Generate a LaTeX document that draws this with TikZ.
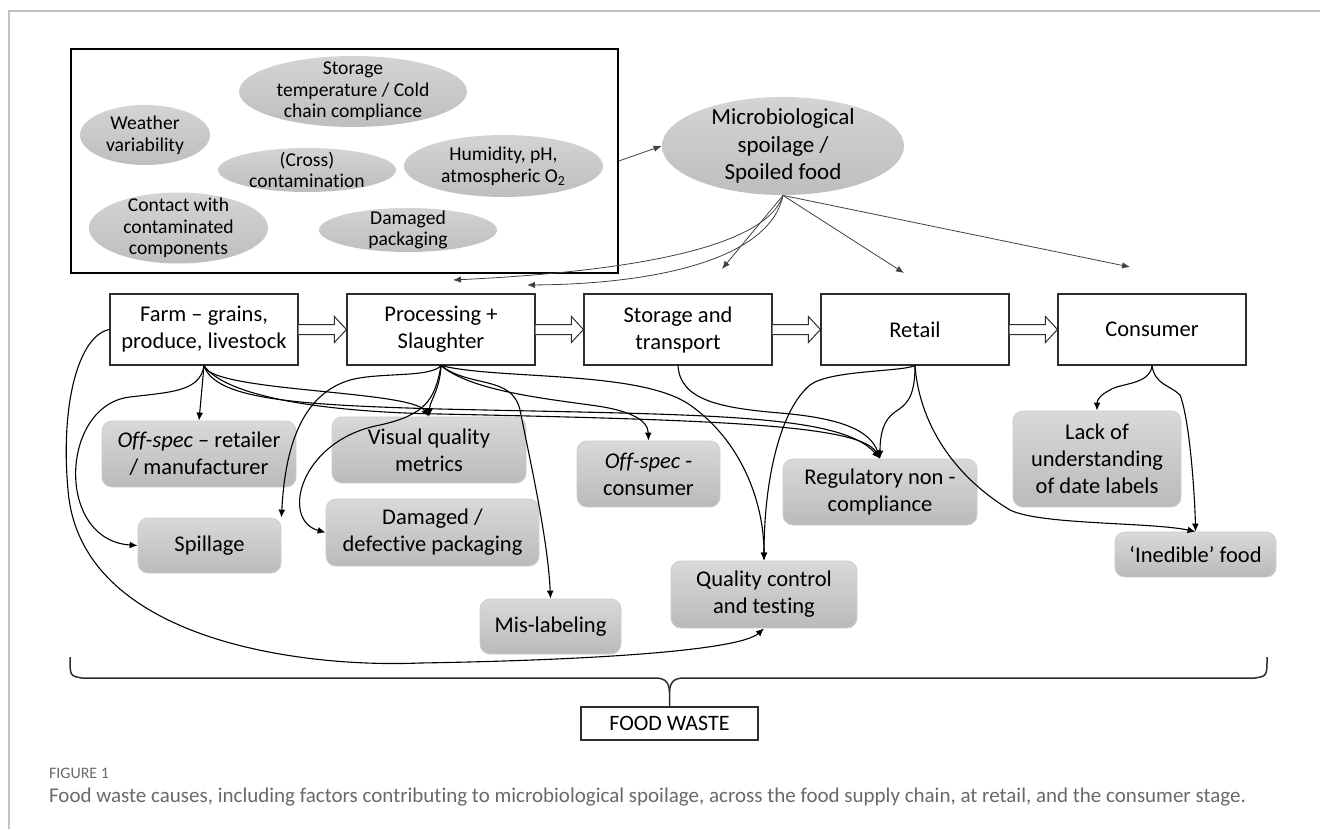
\documentclass[tikz,border=0pt]{standalone}
\usepackage{fontspec}
\setmainfont{Carlito}[Ligatures = CommonOff]
\usetikzlibrary{shapes.geometric, arrows.meta, calc}

\definecolor{boxtop}{RGB}{217,217,217}
\definecolor{boxbot}{RGB}{186,186,186}
\definecolor{boxline}{RGB}{205,205,205}
\definecolor{ovaltop}{RGB}{212,212,212}
\definecolor{ovalbot}{RGB}{190,190,190}
\definecolor{inkgray}{RGB}{45,45,45}
\definecolor{framegray}{RGB}{195,195,195}
\definecolor{capgray}{RGB}{105,105,105}

\begin{document}
\begin{tikzpicture}[x = 0.5pt, y = -0.5pt]
	% Page frame and bounding box
	\useasboundingbox (0, 0) rectangle (1320, 829);
	\draw[framegray, line width = 0.6pt] (9, 829) -- (9, 11) -- (1320, 11);

	% Styles for boxes, ovals and arrows
	\tikzset{stage box/.style = {draw = inkgray, fill = white, line width = 0.6pt, minimum width = 94pt, minimum height = 35.5pt, inner sep = 0pt, align = center, text = black, font = \fontsize{11.25}{13.5}\selectfont}}
	\tikzset{cause box/.style = {draw = boxline, top color = boxtop, bottom color = boxbot, rounded corners = 5pt, line width = 0.4pt, inner sep = 0pt, align = center, text = black, font = \fontsize{11.25}{13.4}\selectfont}}
	\tikzset{factor oval/.style = {ellipse, top color = ovaltop, bottom color = ovalbot, draw = none, inner sep = -30pt, align = center, text = black, font = \fontsize{9.8}{10.8}\selectfont}}
	\tikzset{thin arrow/.style = {-{Latex[length = 4pt, width = 3.4pt]}, line width = 0.55pt}}
	\tikzset{spoil arrow/.style = {-{Latex[length = 4pt, width = 3.2pt]}, line width = 0.4pt, draw = black!75}}
	\tikzset{block arrow/.style = {draw = inkgray, fill = white, line width = 0.5pt}}
	\tikzset{brace line/.style = {draw = inkgray, line width = 0.75pt}}

	% Factors contributing to spoilage
	\node[draw, line width = 0.75pt, minimum width = 273.5pt, minimum height = 112pt, inner sep = 0pt] (factors) at (344.5, 161) {};
	\node[factor oval, minimum width = 114pt, minimum height = 35.5pt] (coldchain) at (353, 91.5) {Storage\\temperature / Cold\\chain compliance};
	\node[factor oval, minimum width = 65pt, minimum height = 30pt] (weather) at (145, 135) {Weather\\variability};
	\node[factor oval, minimum width = 89pt, minimum height = 22pt] (cross) at (307, 170) {(Cross)\\contamination};
	\node[factor oval, minimum width = 99.5pt, minimum height = 31pt] (humid) at (503.5, 166) {Humidity, pH,\\atmospheric O\textsubscript{2}};
	\node[factor oval, minimum width = 89.5pt, minimum height = 35.5pt] (contact) at (178.5, 228) {Contact with\\contaminated\\components};
	\node[factor oval, minimum width = 89pt, minimum height = 22pt] (dampack) at (408, 230) {Damaged\\packaging};
	\node[factor oval, minimum width = 121pt, minimum height = 49pt, font = \fontsize{11.5}{13.8}\selectfont] (micro) at (783, 146) {Microbiological\\spoilage /\\Spoiled food};

	% Supply chain stages
	\node[stage box] (farm) at (204, 329.5) {Farm – grains,\\produce, livestock};
	\node[stage box] (proc) at (441, 329.5) {Processing +\\Slaughter};
	\node[stage box] (store) at (678, 329.5) {Storage and\\transport};
	\node[stage box] (retail) at (915, 329.5) {Retail};
	\node[stage box] (cons) at (1152, 329.5) {Consumer};

	% Causes of waste
	\node[cause box, minimum width = 97pt, minimum height = 33pt] (offret) at (199, 454) {\textit{Off-spec} – retailer\\/ manufacturer};
	\node[cause box, minimum width = 71.5pt, minimum height = 27.5pt] (spill) at (209.5, 545.5) {Spillage};
	\node[cause box, minimum width = 97pt, minimum height = 33pt] (visual) at (429, 450) {Visual quality\\metrics};
	\node[cause box, minimum width = 106.5pt, minimum height = 33.5pt] (damdef) at (432.5, 532.5) {Damaged /\\defective packaging};
	\node[cause box, minimum width = 71.5pt, minimum height = 33pt] (offcons) at (648.5, 474) {\textit{Off-spec} -\\consumer};
	\node[cause box, minimum width = 97pt, minimum height = 33pt] (regul) at (880, 492) {Regulatory non -\\compliance};
	\node[cause box, minimum width = 93pt, minimum height = 33.5pt] (quality) at (764, 594.5) {Quality control\\and testing};
	\node[cause box, minimum width = 70.5pt, minimum height = 27.5pt] (mislab) at (550.5, 626.5) {Mis-labeling};
	\node[cause box, minimum width = 84pt, minimum height = 48pt] (lackdate) at (1097, 459) {Lack of\\understanding\\of date labels};
	\node[cause box, minimum width = 80.5pt, minimum height = 22.5pt] (inedible) at (1195.5, 554.5) {‘Inedible’ food};
	\node[draw = inkgray, line width = 0.6pt, minimum width = 88.5pt, minimum height = 16.5pt, inner sep = 0pt, font = \fontsize{11}{13}\selectfont] (waste) at (669.5, 723.5) {FOOD WASTE};

	% Block arrows along the chain
	\foreach \a/\b in {farm/proc, proc/store, store/retail, retail/cons}
		\draw[block arrow] ($(\a.east) + (0, -5)$) -- ($(\b.west) + (-12, -5)$) -- ($(\b.west) + (-12, -13)$) -- (\b.west) -- ($(\b.west) + (-12, 13)$) -- ($(\b.west) + (-12, 5)$) -- ($(\a.east) + (0, 5)$);

	% Spoilage reaches every stage
	\coordinate (toFarm) at (453, 280);
	\coordinate (toProc) at (527, 285);
	\coordinate (toStore) at (722, 269);
	\coordinate (toRetail) at (904, 273);
	\coordinate (toCons) at (1130, 267);
	\draw[spoil arrow] (factors.east) -- (micro.west);
	\draw[spoil arrow] (micro.south) -- (toStore);
	\draw[spoil arrow] (micro.south) -- (toRetail);
	\draw[spoil arrow] (micro.south) -- (toCons);
	\draw[spoil arrow] (micro.south) .. controls (765, 250) and (620, 272) .. (toFarm);
	\draw[spoil arrow] (micro.south) .. controls (770, 258) and (660, 284) .. (toProc);

	% Farm
	\draw[thin arrow] (farm.south) -- (offret.north);
	\draw[thin arrow] (farm.south) .. controls (200, 392) and (170, 392) .. (130, 397) .. controls (60, 405) and (55, 540) .. (spill.west);
	\draw[thin arrow] (farm.south) .. controls (210, 392) and (410, 390) .. (visual.north);
	\draw[thin arrow] (farm.south) .. controls (215, 400) and (300, 405) .. (440, 409) .. controls (700, 415) and (840, 413) .. (regul.north);
	\draw[thin arrow] (farm.south) .. controls (225, 396) and (320, 412) .. (440, 414) .. controls (720, 420) and (860, 425) .. (regul.north);
	\draw[thin arrow] (farm.west) .. controls (80, 335) and (60, 400) .. (68, 490) .. controls (80, 640) and (300, 668) .. (420, 663) .. controls (600, 660) and (740, 650) .. (quality.south);

	% Processing
	\draw[thin arrow] (proc.south) .. controls (430, 378) and (380, 372) .. (350, 380) .. controls (300, 395) and (285, 450) .. (spill.north east);
	\draw[thin arrow] (proc.south) .. controls (435, 400) and (425, 415) .. (380, 425) .. controls (300, 440) and (280, 520) .. (damdef.west);
	\draw[thin arrow] (proc.south) .. controls (440, 390) and (430, 400) .. (visual.north);
	\draw[thin arrow] (proc.south) .. controls (470, 388) and (512, 375) .. (520, 410) .. controls (530, 460) and (548, 540) .. (mislab.north);
	\draw[thin arrow] (proc.south) .. controls (470, 390) and (540, 398) .. (590, 405) .. controls (630, 410) and (648, 420) .. (offcons.north);
	\draw[thin arrow] (proc.south) .. controls (500, 380) and (640, 370) .. (690, 405) .. controls (740, 440) and (764, 500) .. (quality.north);

	% Storage and retail
	\draw[thin arrow] (store.south) .. controls (680, 400) and (720, 408) .. (780, 413) .. controls (840, 418) and (870, 430) .. (regul.north);
	\draw[thin arrow] (retail.south) .. controls (900, 372) and (830, 370) .. (810, 385) .. controls (780, 410) and (764, 480) .. (quality.north);
	\draw[thin arrow] (retail.south) .. controls (915, 400) and (905, 405) .. (895, 412) .. controls (883, 420) and (880, 435) .. (regul.north);
	\draw[thin arrow] (retail.south) .. controls (920, 430) and (960, 480) .. (1010, 510) .. controls (1040, 525) and (1150, 522) .. (inedible.north);

	% Consumer
	\draw[thin arrow] (cons.south) .. controls (1150, 385) and (1120, 383) .. (1110, 390) .. controls (1100, 395) and (1097, 400) .. (lackdate.north);
	\draw[thin arrow] (cons.south) .. controls (1155, 385) and (1170, 385) .. (1180, 395) .. controls (1190, 420) and (1195, 500) .. (inedible.north);

	% Brace gathering everything into food waste
	\draw[brace line] (70, 657) .. controls (70, 676) .. (82, 678) -- (655, 678) .. controls (666, 678) and (669, 683) .. (669.5, 692) -- (waste.north);
	\draw[brace line] (1267, 657) .. controls (1267, 676) .. (1255, 678) -- (684, 678) .. controls (673, 678) and (670, 683) .. (669.5, 692);

	% Caption
	\node[anchor = west, text = capgray, font = \fontsize{8}{10}\selectfont] (figlabel) at (42, 773) {FIGURE 1};
	\node[anchor = west, text = capgray, font = \fontsize{10.5}{12}\selectfont] (caption) at (42, 797) {Food waste causes, including factors contributing to microbiological spoilage, across the food supply chain, at retail, and the consumer stage.};
\end{tikzpicture}
\end{document}
